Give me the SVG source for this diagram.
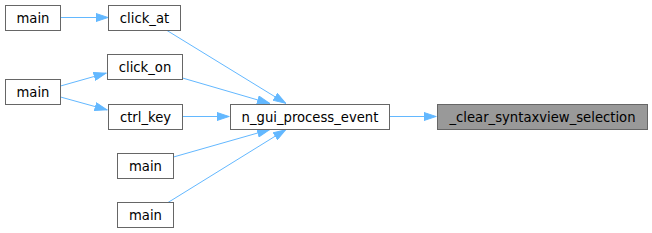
<svg xmlns="http://www.w3.org/2000/svg" width="652" height="233" viewBox="0 0 652 233">
<defs>
<marker id="arr" viewBox="0 0 13 9" refX="13" refY="4.5" markerWidth="13" markerHeight="9" markerUnits="userSpaceOnUse" orient="auto">
<path d="M0.5,0.5 L12.5,4.5 L0.5,8.5 Z" fill="#63b8ff" stroke="#63b8ff" stroke-width="1"/>
</marker>
</defs>
<style>
rect{fill:#ffffff;stroke:#666666;stroke-width:1}
.hl rect{fill:#999999}
text{font-family:"DejaVu Sans",sans-serif;font-size:13.2px;fill:#000000;text-anchor:middle}
#edges path{fill:none;stroke:#63b8ff;stroke-width:1;marker-end:url(#arr)}
</style>
<rect x="0" y="0" width="652" height="233" style="fill:#ffffff;stroke:none"/>
<g id="edges">
<path d="M60.5,17.5 L108.5,17.5"/>
<path d="M60.5,86 L106.5,73"/>
<path d="M60.5,97 L107.5,110"/>
<path d="M167,30.5 L286,103.5"/>
<path d="M182.5,78 L270,103.5"/>
<path d="M182.5,116.5 L229.5,116.5"/>
<path d="M173.5,157 L270,129.5"/>
<path d="M168,202.5 L286,129.5"/>
<path d="M389.5,116.5 L436.5,116.5"/>
</g>
<g id="main_a"><rect x="5.5" y="5.5" width="55" height="25"/><text x="33" y="22.5">main</text></g>
<g id="click_at"><rect x="108.5" y="5.5" width="72" height="25"/><text x="144.5" y="22.5">click_at</text></g>
<g id="main_b"><rect x="5.5" y="79.5" width="55" height="25"/><text x="33" y="96.5">main</text></g>
<g id="click_on"><rect x="107.5" y="54.5" width="75" height="25"/><text x="145" y="71.5">click_on</text></g>
<g id="ctrl_key"><rect x="108.5" y="104.5" width="74" height="25"/><text x="145.5" y="121.5">ctrl_key</text></g>
<g id="main_c"><rect x="117.5" y="153.5" width="56" height="25"/><text x="145.5" y="170.5">main</text></g>
<g id="main_d"><rect x="117.5" y="202.5" width="56" height="25"/><text x="145.5" y="219.5">main</text></g>
<g id="n_gui_process_event"><rect x="230.5" y="104.5" width="159" height="25"/><text x="310" y="121.5">n_gui_process_event</text></g>
<g id="clear_syntaxview_selection" class="hl"><rect x="437.5" y="104.5" width="210" height="25"/><text x="542.5" y="121.5">_clear_syntaxview_selection</text></g>
</svg>
